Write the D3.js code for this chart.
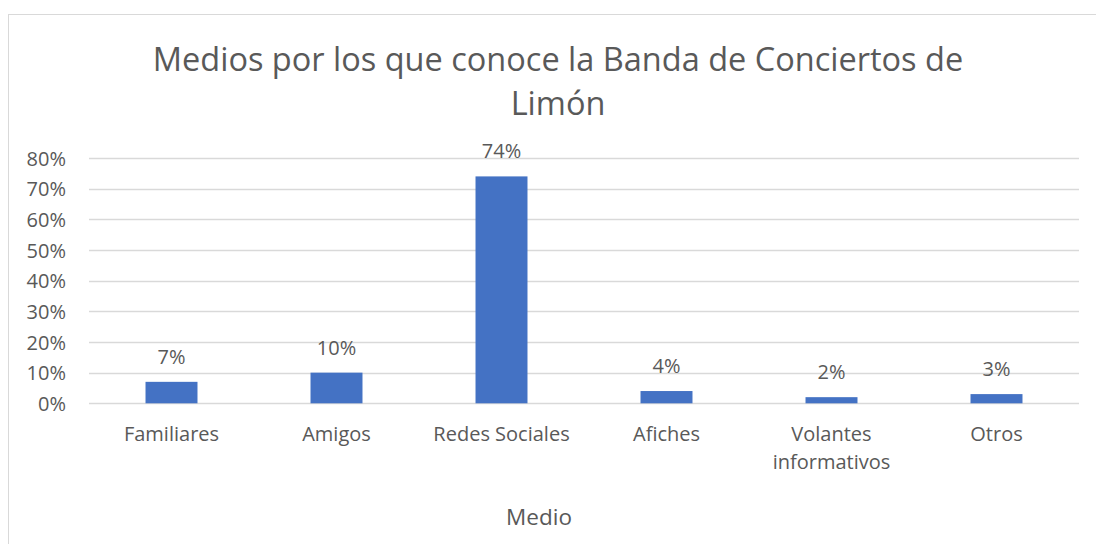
<!DOCTYPE html>
<html>
<head>
<meta charset="utf-8">
<script src="https://cdn.jsdelivr.net/npm/d3@7"></script>
<style>
  html, body { margin: 0; padding: 0; background: #fff; }
  svg { display: block; }
  text { font-family: "Open Sans", sans-serif; fill: #595959; }
</style>
</head>
<body>
<svg id="chart" width="1096" height="544"></svg>
<script>
const categories = ["Familiares", "Amigos", "Redes Sociales", "Afiches", "Volantes informativos", "Otros"];
const values = [0.07, 0.10, 0.74, 0.04, 0.02, 0.03];
const yTicks = [0, 0.1, 0.2, 0.3, 0.4, 0.5, 0.6, 0.7, 0.8];
const titleLines = ["Medios por los que conoce la Banda de Conciertos de", "Limón"];
const xTitle = "Medio";

const FONT = "'Open Sans', sans-serif";
const svg = d3.select("#chart");
const W = 1096, H = 544;
const plot = { left: 89, right: 1079, top: 158, bottom: 403.3 };

svg.append("rect").attr("x", 8.5).attr("y", 14.5).attr("width", W).attr("height", H)
  .attr("fill", "#fff").attr("stroke", "#d9d9d9").attr("stroke-width", 1);

const x = d3.scaleBand().domain(categories).range([plot.left, plot.right])
  .paddingInner(0.685).paddingOuter(0.3425);
const y = d3.scaleLinear().domain([0, 0.8]).range([plot.bottom, plot.top]);

// gridlines
svg.append("g").selectAll("line").data(yTicks).join("line")
  .attr("x1", plot.left).attr("x2", plot.right)
  .attr("y1", d => Math.round(y(d)) + 0.5).attr("y2", d => Math.round(y(d)) + 0.5)
  .attr("stroke", "#d9d9d9").attr("stroke-width", 1.3);

// y axis labels
const yAxis = d3.axisLeft(y).tickValues(yTicks).tickFormat(d3.format(".0%")).tickSize(0).tickPadding(23);
const gy = svg.append("g").attr("transform", `translate(${plot.left},0)`).call(yAxis);
gy.select(".domain").remove();
gy.selectAll("text").attr("font-size", 20).attr("dy", "0.36em").style("fill", "#595959")
  .style("font-family", FONT);

// bars
svg.append("g").selectAll("rect").data(categories).join("rect")
  .attr("x", d => x(d)).attr("width", x.bandwidth())
  .attr("y", (d, i) => y(values[i])).attr("height", (d, i) => y(0) - y(values[i]))
  .attr("fill", "#4472C4");

// data labels
svg.append("g").selectAll("text").data(categories).join("text")
  .attr("x", d => x(d) + x.bandwidth() / 2)
  .attr("y", (d, i) => y(values[i]) - 18)
  .attr("text-anchor", "middle").attr("font-size", 20)
  .text((d, i) => d3.format(".0%")(values[i]));

// category labels
const xAxis = d3.axisBottom(x).tickSize(0).tickPadding(0);
const gx = svg.append("g").attr("transform", `translate(0,${plot.bottom})`).call(xAxis);
gx.select(".domain").remove();
gx.selectAll("text").each(function(d) {
  const t = d3.select(this);
  t.text(null).attr("y", 0).attr("dy", null)
    .attr("font-size", 20).style("fill", "#595959")
    .style("font-family", FONT);
  const lines = d === "Volantes informativos" ? ["Volantes", "informativos"] : [d];
  lines.forEach((ln, i) => {
    t.append("tspan").attr("x", 0).attr("y", 38 + i * 28).text(ln);
  });
});

// title
const title = svg.append("text").attr("text-anchor", "middle").attr("font-size", 32.5);
titleLines.forEach((ln, i) => {
  title.append("tspan").attr("x", 558).attr("y", 71 + i * 44).text(ln);
});

// x axis title
svg.append("text").attr("x", 539).attr("y", 525).attr("text-anchor", "middle")
  .attr("font-size", 22.5).text(xTitle);
</script>
</body>
</html>
